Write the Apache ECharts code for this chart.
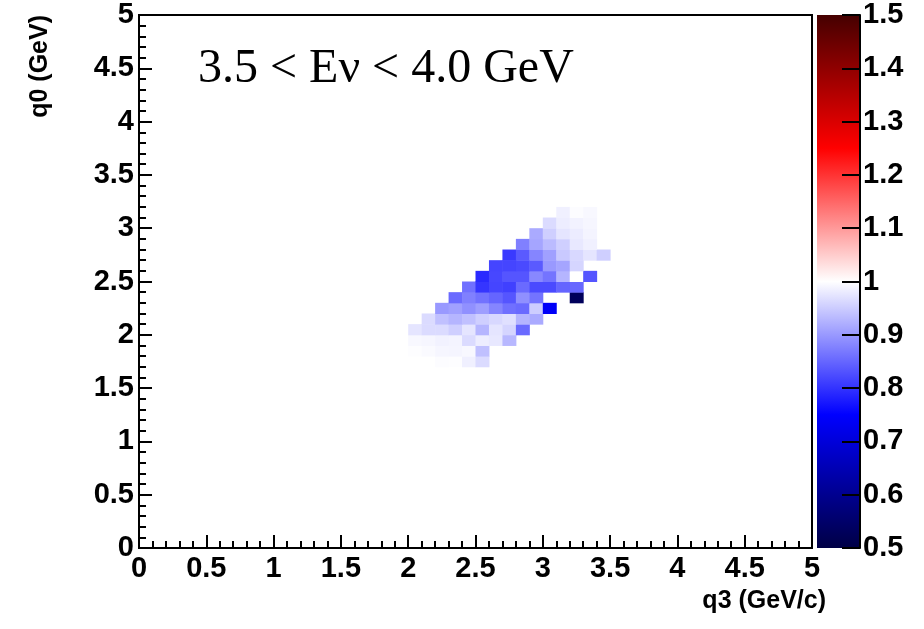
<!DOCTYPE html>
<html>
<head>
<meta charset="utf-8">
<script src="https://cdn.jsdelivr.net/npm/echarts@6/dist/echarts.min.js"></script>
<style>
  html, body { margin: 0; padding: 0; background: #fff; }
  #chart { width: 924px; height: 629px; }
</style>
</head>
<body>
<div id="chart"></div>
<script>
// bin width of the 2D histogram (GeV)
const BIN = 0.1

// lower edges of the filled bins
const q3Bins = [2.0, 2.1, 2.2, 2.3, 2.4, 2.5, 2.6, 2.7, 2.8, 2.9, 3.0, 3.1, 3.2, 3.3, 3.4]
const q0Bins = [1.7, 1.8, 1.9, 2.0, 2.1, 2.2, 2.3, 2.4, 2.5, 2.6, 2.7, 2.8, 2.9, 3.0, 3.1]

// ratio per bin, one row per q0 bin, one column per q3 bin (null = empty)
const _ = null
const ratioRows = [
  [_, _, 0.997, 0.998, 0.985, 0.965, _, _, _, _, _, _, _, _, _],
  [0.998, 0.995, 0.991, 0.990, 0.993, 0.938, _, _, _, _, _, _, _, _, _],
  [0.993, 0.991, 0.987, 0.989, 0.965, 0.982, 0.977, 0.930, _, _, _, _, _, _, _],
  [0.975, 0.965, 0.965, 0.953, 0.975, 0.927, 0.975, 0.959, 0.854, _, _, _, _, _, _],
  [_, 0.965, 0.938, 0.927, 0.938, 0.953, 0.962, 0.970, 0.927, 0.917, _, _, _, _, _],
  [_, _, 0.900, 0.907, 0.891, 0.905, 0.880, 0.860, 0.854, 0.951, 0.740, _, _, _, _],
  [_, _, _, 0.854, 0.875, 0.862, 0.849, 0.833, 0.891, 0.864, _, _, 0.530, _, _],
  [_, _, _, _, 0.860, 0.802, 0.818, 0.813, 0.854, 0.823, 0.823, 0.849, 0.852, _, _],
  [_, _, _, _, _, 0.791, 0.820, 0.833, 0.833, 0.883, 0.864, 0.927, 1.000, 0.833, _],
  [_, _, _, _, _, _, 0.818, 0.818, 0.823, 0.838, 0.900, 0.912, 0.959, _, _],
  [_, _, _, _, _, _, _, 0.807, 0.838, 0.880, 0.907, 0.947, 0.962, 0.975, 0.953],
  [_, _, _, _, _, _, _, _, 0.875, 0.912, 0.933, 0.953, 0.977, 0.985, _],
  [_, _, _, _, _, _, _, _, _, 0.917, 0.953, 0.975, 0.981, 0.989, _],
  [_, _, _, _, _, _, _, _, _, _, 0.965, 0.982, 0.987, 0.991, _],
  [_, _, _, _, _, _, _, _, _, _, _, 0.985, 0.997, 0.993, _]
]

// palette: evenly spaced from 0.5 to 1.5
const paletteMin = 0.5
const paletteMax = 1.5
const paletteColors = ['#000045', '#0000ff', '#ffffff', '#ff0000', '#450000']

const cells = []
ratioRows.forEach((row, i) => {
  row.forEach((v, j) => {
    if (v !== null) cells.push([q3Bins[j], q0Bins[i], v])
  })
})

const chart = echarts.init(document.getElementById('chart'))

const tickFont = {
  color: '#000',
  fontFamily: 'Liberation Sans',
  fontWeight: 'bold',
  fontSize: 29
}

const option = {
  animation: false,
  title: {
    text: '3.5 < Eν < 4.0 GeV',
    left: 193,
    top: 40,
    textStyle: {
      fontFamily: 'Liberation Serif',
      fontWeight: 'normal',
      fontSize: 48,
      color: '#000'
    }
  },
  grid: [
    { left: 139, right: 112, top: 15, bottom: 81, outerBoundsMode: 'none', show: true, borderColor: '#000', borderWidth: 2, backgroundColor: '#fff' },
    { left: 817, width: 43, top: 15, bottom: 81, outerBoundsMode: 'none' }
  ],
  visualMap: {
    show: false,
    type: 'continuous',
    seriesIndex: 0,
    dimension: 2,
    min: paletteMin,
    max: paletteMax,
    inRange: { color: paletteColors }
  },
  xAxis: [
    {
      type: 'value',
      min: 0,
      max: 5,
      interval: 0.5,
      name: 'q3 (GeV/c)',
      nameLocation: 'end',
      nameGap: 14,
      nameTextStyle: { color: '#000', fontFamily: 'Liberation Sans', fontWeight: 'bold', fontSize: 25, align: 'right', verticalAlign: 'top', padding: [41, 0, 0, 0] },
      axisLine: { onZero: false, lineStyle: { color: '#000', width: 2 } },
      axisTick: { inside: true, length: 13, lineStyle: { color: '#000', width: 2 } },
      minorTick: { show: true, splitNumber: 5, length: 7, lineStyle: { color: '#000', width: 2 } },
      axisLabel: { ...tickFont, margin: 6 },
      splitLine: { show: false }
    },
    { gridIndex: 1, type: 'value', min: 0, max: 1, show: false }
  ],
  yAxis: [
    {
      type: 'value',
      min: 0,
      max: 5,
      interval: 0.5,
      axisLine: { onZero: false, lineStyle: { color: '#000', width: 2 } },
      axisTick: { inside: true, length: 13, lineStyle: { color: '#000', width: 2 } },
      minorTick: { show: true, splitNumber: 5, length: 7, lineStyle: { color: '#000', width: 2 } },
      axisLabel: { ...tickFont, margin: 5 },
      splitLine: { show: false }
    },
    {
      gridIndex: 1,
      type: 'value',
      position: 'right',
      z: 10,
      min: paletteMin,
      max: paletteMax,
      interval: 0.1,
      axisLine: { show: true, onZero: false, lineStyle: { color: '#000', width: 2 } },
      axisTick: { inside: true, length: 18, lineStyle: { color: '#000', width: 2 } },
      axisLabel: { ...tickFont, margin: 3 },
      splitLine: { show: false }
    }
  ],
  graphic: [
    {
      type: 'text',
      x: 40,
      y: 15,
      rotation: Math.PI / 2,
      style: {
        text: 'q0 (GeV)',
        font: 'bold 25px "Liberation Sans"',
        fill: '#000',
        textAlign: 'right',
        textVerticalAlign: 'middle'
      }
    }
  ],
  series: [
    {
      type: 'custom',
      xAxisIndex: 0,
      yAxisIndex: 0,
      data: cells,
      encode: { x: 0, y: 1 },
      renderItem: (params, api) => {
        const p0 = api.coord([api.value(0), api.value(1)])
        const p1 = api.coord([api.value(0) + BIN, api.value(1) + BIN])
        return {
          type: 'rect',
          shape: { x: p0[0], y: p1[1], width: p1[0] - p0[0] + 0.5, height: p0[1] - p1[1] + 0.5 },
          style: { fill: api.visual('color') }
        }
      }
    },
    {
      // colour bar of the palette
      type: 'custom',
      xAxisIndex: 1,
      yAxisIndex: 1,
      z: 1,
      data: [[0, paletteMin]],
      renderItem: (params, api) => {
        const lo = api.coord([0, paletteMin])
        const hi = api.coord([1, paletteMax])
        const n = paletteColors.length - 1
        // gradient runs top (max) to bottom (min)
        const stops = paletteColors.map((c, i) => ({ offset: 1 - i / n, color: c })).reverse()
        return {
          type: 'rect',
          shape: { x: lo[0], y: hi[1], width: hi[0] - lo[0], height: lo[1] - hi[1] },
          style: { fill: new echarts.graphic.LinearGradient(0, 0, 0, 1, stops) }
        }
      }
    }
  ]
}

chart.setOption(option)
</script>
</body>
</html>
